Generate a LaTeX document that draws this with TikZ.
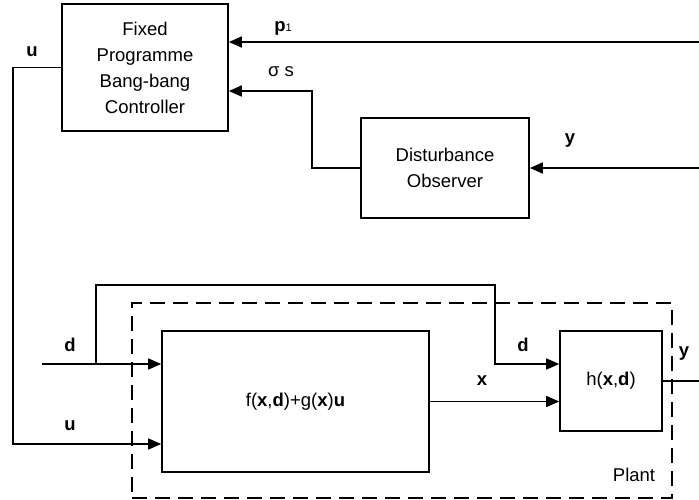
\documentclass[tikz,border=0pt]{standalone}
\usepackage{fontspec}
\setmainfont{Liberation Sans}
\usetikzlibrary{arrows.meta, positioning, calc}

\begin{document}
\begin{tikzpicture}[x=1pt, y=-1pt,
    every node/.style={font=\fontsize{18.5}{26}\selectfont},
    block/.style={
        rectangle, draw, line width=1.6pt, align=center, inner sep=0pt,
    },
    plantbox/.style={
        rectangle, draw, line width=1.6pt, dash pattern=on 15pt off 8pt,
        inner sep=0pt,
    },
    sig/.style={line width=1.6pt},
    arr/.style={sig, -{Triangle[length=13pt, width=11pt]}},
    lbl/.style={inner sep=0pt},
]

\useasboundingbox (0,0) rectangle (699,499);

% ── Blocks ─────────────────────────────────────────────────────────────
\node[block, minimum width=166pt, minimum height=127pt] (ctrl) at (145,67.5)
    {Fixed\\Programme\\Bang-bang\\Controller};
\node[block, minimum width=168pt, minimum height=100pt] (obs) at (445,168)
    {Disturbance\\Observer};
\node[plantbox, minimum width=540pt, minimum height=195pt] (plant) at (402,400.5) {};
\node[block, minimum width=267pt, minimum height=141pt] (fbox) at (295.5,401.5)
    {f(\textbf{x},\textbf{d})+g(\textbf{x})\textbf{u}};
\node[block, minimum width=102pt, minimum height=100pt] (hbox) at (611,381)
    {h(\textbf{x},\textbf{d})};

% ── Free ends and bends ────────────────────────────────────────────────
\coordinate (pin)   at (699,42);
\coordinate (yin)   at (699,168);
\coordinate (yout)  at (699,381);
\coordinate (sigma) at (312,91);
\coordinate (ubend) at (13,444);
\coordinate (din)   at (42,364);
\coordinate (djoin) at (96,364);
\coordinate (dtop)  at (495,285);

% ── Connectors ─────────────────────────────────────────────────────────
\draw[arr] (pin) -- (pin -| ctrl.east);
\draw[arr] (obs.west) -| (sigma) -- (sigma -| ctrl.east);
\draw[arr] (yin) -- (obs.east);
\draw[arr] (ctrl.west) -| (ubend) -- (ubend -| fbox.west);
\draw[arr] (din) -- (din -| fbox.west);
\draw[arr] (djoin) |- (dtop) |- (hbox.west |- din);
\draw[arr] (fbox.east) -- (fbox.east -| hbox.west);
\draw[sig] (hbox.east) -- (yout);

% ── Labels ─────────────────────────────────────────────────────────────
\node[lbl] (lblu)     at (32,52)   {\textbf{u}};
\node[lbl] (lblp)     at (283,28)  {\textbf{p}{\fontsize{11}{11}\selectfont 1}};
\node[lbl] (lblsigma) at (281,72)  {σ s};
\node[lbl] (lbly)     at (570,141) {\textbf{y}};
\node[lbl] (lbld)     at (70,345)  {\textbf{d}};
\node[lbl] (lblu2)    at (70,426)  {\textbf{u}};
\node[lbl] (lbld2)    at (523,345) {\textbf{d}};
\node[lbl] (lblx)     at (482,381) {\textbf{x}};
\node[lbl] (lbly2)    at (684,354) {\textbf{y}};
\node[lbl] (lblplant) at (634,475) {Plant};

\end{tikzpicture}
\end{document}
